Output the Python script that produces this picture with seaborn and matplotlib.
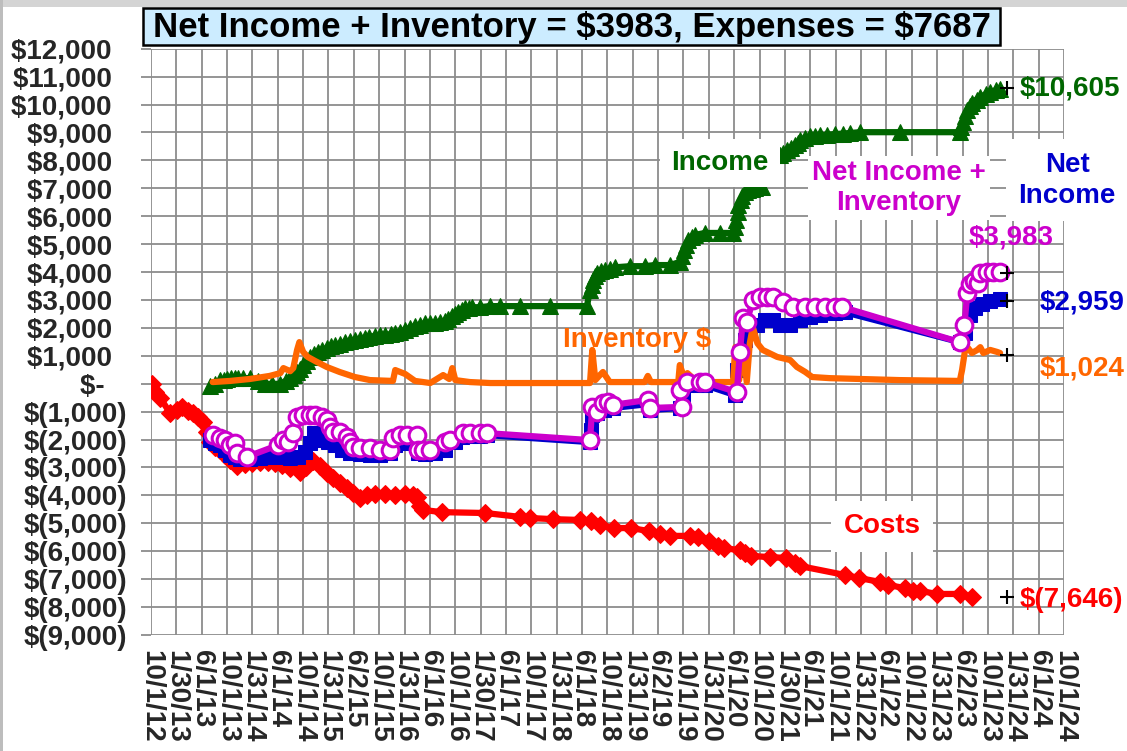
import numpy as np
import pandas as pd
import matplotlib
matplotlib.use("Agg")
import matplotlib.pyplot as plt
from matplotlib.patches import Rectangle
import seaborn as sns

# ---------------- data (x in decimal years, y in dollars) ----------------
costs_t = [2012.76, 2012.80, 2012.87, 2013.00, 2013.09, 2013.16, 2013.24, 2013.30, 2013.37, 2013.43,
           2013.49, 2013.53, 2013.59, 2013.66, 2013.72, 2013.79, 2013.88, 2013.99, 2014.08, 2014.18,
           2014.29, 2014.38, 2014.47, 2014.58, 2014.71, 2014.79, 2014.88, 2014.97, 2015.06, 2015.14,
           2015.23, 2015.33, 2015.41, 2015.50, 2015.59, 2015.69, 2015.83, 2015.96, 2016.09, 2016.19,
           2016.25, 2016.29, 2016.33, 2016.57, 2017.14, 2017.60, 2017.73, 2018.03, 2018.39, 2018.53,
           2018.65, 2018.84, 2019.06, 2019.30, 2019.44, 2019.57, 2019.83, 2019.94, 2020.08, 2020.20,
           2020.28, 2020.49, 2020.56, 2020.64, 2020.89, 2021.10, 2021.21, 2021.28, 2021.87, 2022.06,
           2022.33, 2022.44, 2022.66, 2022.77, 2022.86, 2023.08, 2023.38, 2023.54]
costs_v = [0, -300, -500, -1050, -940, -830, -980, -1050, -1190, -1370,
           -1730, -2090, -2270, -2380, -2550, -2730, -2950, -2880, -2840, -2800,
           -2800, -2840, -2910, -3020, -3160, -2980, -2770, -2950, -3200, -3380,
           -3560, -3740, -3920, -4090, -3990, -3950, -3950, -3990, -3950, -3990,
           -4060, -4380, -4520, -4600, -4630, -4770, -4810, -4850, -4880, -4920,
           -5060, -5170, -5170, -5280, -5380, -5450, -5450, -5490, -5640, -5810,
           -5890, -5960, -6070, -6170, -6210, -6240, -6420, -6530, -6850, -6960,
           -7100, -7210, -7320, -7420, -7420, -7530, -7530, -7646]

income_t = [2013.53, 2013.59, 2013.66, 2013.71, 2013.75, 2013.80, 2013.85, 2013.90, 2013.96, 2014.05,
            2014.16, 2014.25, 2014.34, 2014.45, 2014.52, 2014.58, 2014.63, 2014.67, 2014.71, 2014.75,
            2014.80, 2014.84, 2014.89, 2014.94, 2015.00, 2015.06, 2015.11, 2015.17, 2015.23, 2015.30,
            2015.36, 2015.43, 2015.50, 2015.56, 2015.62, 2015.69, 2015.76, 2015.83, 2015.90, 2015.96,
            2016.02, 2016.09, 2016.15, 2016.22, 2016.28, 2016.35, 2016.42, 2016.48, 2016.55, 2016.61,
            2016.66, 2016.71, 2016.75, 2016.79, 2016.84, 2016.88, 2016.93, 2016.97, 2017.07, 2017.20,
            2017.34, 2017.60, 2017.99, 2018.48, 2018.52, 2018.54, 2018.56, 2018.58, 2018.61, 2018.66,
            2018.72, 2018.78, 2018.85, 2019.05, 2019.24, 2019.37, 2019.57, 2019.70, 2019.73, 2019.76,
            2019.78, 2019.81, 2019.86, 2019.90, 2020.03, 2020.23, 2020.40, 2020.42, 2020.44, 2020.46,
            2020.47, 2020.50, 2020.52, 2020.56, 2020.60, 2020.65, 2020.69, 2020.78, 2020.98, 2021.02,
            2021.06, 2021.11, 2021.16, 2021.21, 2021.25, 2021.28, 2021.34, 2021.41, 2021.48, 2021.54,
            2021.64, 2021.74, 2021.84, 2021.94, 2022.07, 2022.59, 2023.38, 2023.40, 2023.42, 2023.45,
            2023.48, 2023.51, 2023.54, 2023.60, 2023.65, 2023.72, 2023.78, 2023.85, 2023.91]
income_v = [-80, 0, 130, 150, 170, 190, 200, 200, 200, 200,
            100, 0, -10, 0, 100, 200, 320, 420, 540, 670,
            820, 960, 1050, 1130, 1210, 1280, 1340, 1390, 1440, 1490,
            1530, 1570, 1610, 1640, 1680, 1710, 1730, 1740, 1780, 1820,
            1870, 1920, 2000, 2070, 2120, 2170, 2170, 2170, 2200, 2240,
            2320, 2410, 2480, 2560, 2640, 2710, 2730, 2740, 2740, 2780,
            2780, 2780, 2780, 2780, 3360, 3550, 3710, 3850, 3970, 4020,
            4060, 4120, 4170, 4210, 4210, 4250, 4250, 4360, 4580, 4790,
            4980, 5150, 5260, 5330, 5400, 5400, 5400, 5620, 5860, 6140,
            6400, 6580, 6720, 6850, 6940, 6980, 7000, 7050, 8190, 8190,
            8280, 8370, 8460, 8550, 8640, 8720, 8800, 8870, 8890, 8900,
            8920, 8940, 8960, 8980, 9010, 9010, 9010, 9180, 9370, 9580,
            9800, 9950, 10050, 10180, 10270, 10370, 10450, 10510, 10560]

inventory_t = [2013.56, 2013.79, 2014.05, 2014.31, 2014.45, 2014.49, 2014.58, 2014.62, 2014.67, 2014.70,
               2014.75, 2014.81, 2014.91, 2015.06, 2015.23, 2015.43, 2015.63, 2015.93, 2015.96, 2016.09,
               2016.22, 2016.42, 2016.59, 2016.67, 2016.71, 2016.75, 2016.94, 2017.21, 2017.99, 2018.52,
               2018.55, 2018.59, 2018.65, 2018.69, 2018.78, 2019.24, 2019.28, 2019.32, 2019.68, 2019.70,
               2019.76, 2019.80, 2019.93, 2020.40, 2020.43, 2020.48, 2020.53, 2020.58, 2020.62, 2020.66,
               2020.72, 2020.79, 2020.98, 2021.15, 2021.24, 2021.35, 2021.44, 2021.67, 2022.07, 2022.59,
               2023.38, 2023.41, 2023.45, 2023.48, 2023.54, 2023.61, 2023.65, 2023.69, 2023.78, 2023.87,
               2023.91]
inventory_v = [60, 100, 170, 280, 380, 560, 450, 560, 1210, 1490,
               1140, 960, 810, 600, 420, 240, 130, 100, 490, 350,
               100, 25, 310, 170, 560, 130, 60, 25, 25, 25,
               1210, 130, 310, 420, 60, 60, 280, 60, 60, 670,
               200, 380, 60, 60, 1310, 130, 1310, 60, 1450, 2030,
               1450, 1210, 960, 850, 600, 420, 240, 200, 170, 130,
               100, 490, 1210, 1310, 1100, 1210, 1310, 1100, 1210, 1140,
               1100]

net_t = [2013.53, 2013.59, 2013.66, 2013.72, 2013.79, 2013.85, 2013.92, 2014.05, 2014.18, 2014.31,
         2014.45, 2014.58, 2014.68, 2014.77, 2014.84, 2014.89, 2014.94, 2015.00, 2015.08, 2015.17,
         2015.26, 2015.37, 2015.50, 2015.63, 2015.76, 2015.89, 2015.96, 2016.09, 2016.22, 2016.26,
         2016.35, 2016.48, 2016.61, 2016.75, 2016.84, 2016.94, 2017.07, 2017.17, 2018.52, 2018.53,
         2018.55, 2018.61, 2018.71, 2018.82, 2019.28, 2019.31, 2019.70, 2019.74, 2019.80, 2019.97,
         2020.03, 2020.43, 2020.45, 2020.49, 2020.56, 2020.62, 2020.71, 2020.82, 2020.93, 2021.02,
         2021.15, 2021.28, 2021.41, 2021.54, 2021.74, 2021.87, 2023.38, 2023.45, 2023.52, 2023.58,
         2023.67, 2023.78, 2023.91]
net_v = [-2020, -2130, -2200, -2370, -2550, -2630, -2700, -2700, -2660, -2630,
         -2630, -2660, -2630, -2450, -2130, -1770, -1880, -2020, -2090, -2200,
         -2370, -2480, -2520, -2550, -2550, -2480, -2200, -2130, -2130, -2480,
         -2520, -2480, -2370, -2090, -1910, -1880, -1880, -1840, -2090, -1660,
         -1120, -1050, -940, -870, -730, -940, -870, -480, -50, -50,
         -50, -410, 490, 1030, 1560, 1850, 2100, 2280, 2280, 2100,
         2100, 2280, 2380, 2460, 2530, 2560, 1490, 1810, 2460, 2710,
         2850, 2960, 3030]

netinv_t = [2013.56, 2013.66, 2013.72, 2013.79, 2013.85, 2013.88, 2014.01, 2014.42, 2014.49, 2014.55,
            2014.62, 2014.67, 2014.75, 2014.84, 2014.91, 2015.00, 2015.06, 2015.10, 2015.14, 2015.23,
            2015.33, 2015.37, 2015.41, 2015.50, 2015.63, 2015.76, 2015.89, 2015.93, 2016.02, 2016.11,
            2016.25, 2016.26, 2016.33, 2016.42, 2016.61, 2016.68, 2016.85, 2016.94, 2017.07, 2017.17,
            2018.52, 2018.55, 2018.61, 2018.69, 2018.76, 2018.82, 2019.28, 2019.31, 2019.73, 2019.70,
            2019.80, 2019.97, 2020.03, 2020.45, 2020.49, 2020.53, 2020.58, 2020.66, 2020.75, 2020.85,
            2020.93, 2021.06, 2021.19, 2021.35, 2021.48, 2021.61, 2021.74, 2021.83, 2023.38, 2023.44,
            2023.48, 2023.52, 2023.57, 2023.62, 2023.65, 2023.74, 2023.82, 2023.91]
netinv_v = [-1840, -1950, -2020, -2200, -2130, -2480, -2620, -2200, -2020, -2090,
            -1770, -1190, -1120, -1120, -1120, -1190, -1300, -1550, -1730, -1730,
            -1910, -2090, -2270, -2300, -2300, -2370, -2370, -1950, -1840, -1840,
            -1840, -2370, -2370, -2370, -2090, -2020, -1770, -1770, -1770, -1770,
            -2020, -830, -1010, -690, -660, -760, -580, -870, -830, -230,
            60, 60, 60, -300, 1120, 2340, 2200, 2990, 3100, 3100,
            3100, 2930, 2750, 2750, 2750, 2750, 2750, 2750, 1490, 2100,
            3240, 3570, 3680, 3610, 3970, 4000, 4000, 4000]

end_t = 2024.0
end_values = [10605, 3983, 2959, 1024, -7646]

xtick_labels = ["10/1/12", "1/30/13", "6/1/13", "10/1/13", "1/31/14", "6/1/14", "10/1/14", "1/31/15",
                "6/2/15", "10/1/15", "1/31/16", "6/1/16", "10/1/16", "1/30/17", "6/1/17", "10/1/17",
                "1/31/18", "6/1/18", "10/1/18", "1/31/19", "6/2/19", "10/1/19", "1/31/20", "6/1/20",
                "10/1/20", "1/30/21", "6/1/21", "10/1/21", "1/31/22", "6/1/22", "10/1/22", "1/31/23",
                "6/2/23", "10/1/23", "1/31/24", "6/1/24", "10/1/24"]
ytick_values = list(range(-9000, 12001, 1000))

title_text = "Net Income + Inventory = $3983, Expenses = $7687"

# ---------------- helpers ----------------
ORIGIN = pd.Timestamp("2012-10-01")


def to_dt(yrs):
    return ORIGIN + pd.to_timedelta((np.asarray(yrs, dtype=float) - 2012.75) * 365.25, unit="D")


def esc(s):
    return s.replace("$", r"\$")


def acct(v):
    if v == 0:
        return esc("$-   ")
    if v < 0:
        return esc("$({:,})".format(-v))
    return esc("${:,}  ".format(v))


GREEN = "#006600"
RED = "#FF0000"
ORANGE = "#FF6600"
BLUE = "#0000CC"
MAGENTA = "#CC00CC"
GRID = "#8C8C8C"

sns.set_theme(style="white")
plt.rcParams["font.family"] = ["Liberation Sans", "DejaVu Sans"]
plt.rcParams["font.weight"] = "bold"

fig = plt.figure(figsize=(11.27, 7.51), dpi=100)
ax = fig.add_axes([151 / 1127, 1 - 635 / 751, (1064 - 151) / 1127, (635 - 48.7) / 751])

# series
sns.lineplot(x=to_dt(income_t), y=income_v, ax=ax, color=GREEN, lw=4.5, marker="^",
             markersize=11, markeredgecolor=GREEN, sort=False, estimator=None, zorder=3)
sns.lineplot(x=to_dt(costs_t), y=costs_v, ax=ax, color=RED, lw=4.5, marker="D",
             markersize=9.5, markeredgecolor=RED, sort=False, estimator=None, zorder=4)
sns.lineplot(x=to_dt(net_t), y=net_v, ax=ax, color=BLUE, lw=4.5, marker="s",
             markersize=10, markeredgecolor=BLUE, sort=False, estimator=None, zorder=5)
sns.lineplot(x=to_dt(inventory_t), y=inventory_v, ax=ax, color=ORANGE, lw=4.5,
             sort=False, estimator=None, zorder=6)
sns.lineplot(x=to_dt(netinv_t), y=netinv_v, ax=ax, color=MAGENTA, lw=4.5, marker="o",
             markersize=12, markerfacecolor="white", markeredgecolor=MAGENTA, markeredgewidth=2.2,
             sort=False, estimator=None, zorder=7)
sns.scatterplot(x=to_dt([end_t] * len(end_values)), y=end_values, ax=ax, marker="+", s=110,
                color="black", linewidth=1.5, zorder=9, clip_on=False)

# axes
xt = pd.to_datetime(xtick_labels, format="%m/%d/%y")
ax.set_xlim(xt[0], xt[-1])
ax.set_ylim(-9000, 12000)
ax.set_xticks(xt)
ax.set_xticklabels(xtick_labels, rotation=270, fontsize=20, fontweight="bold")
ax.set_yticks(ytick_values)
ax.set_yticklabels([acct(v) for v in ytick_values], fontsize=20, fontweight="bold")
ax.tick_params(axis="x", length=0, pad=11)
ax.tick_params(axis="y", length=7, width=1.3, color=GRID, pad=10, direction="out", left=True)
ax.grid(True, color=GRID, lw=1.3)
ax.set_axisbelow(True)
for s in ax.spines.values():
    s.set_visible(False)
ax.set_xlabel("")
ax.set_ylabel("")
if ax.get_legend():
    ax.get_legend().remove()


def yd(v):
    return to_dt([v])[0]


lab = dict(fontsize=20, fontweight="bold", zorder=12)
ax.text(yd(2020.23), 7900, "Income", color=GREEN, ha="center", va="center",
        bbox=dict(facecolor="white", edgecolor="none", pad=8), **lab)
ax.text(yd(2022.58), 7000, "Net Income +\nInventory", color=MAGENTA, ha="center", va="center",
        linespacing=1.18, bbox=dict(facecolor="white", edgecolor="none", pad=3), **lab)
ax.text(yd(2024.79), 7290, "Net\nIncome", color=BLUE, ha="center", va="center", linespacing=1.25,
        bbox=dict(facecolor="white", edgecolor="none", pad=9), clip_on=False, **lab)
ax.text(yd(2024.05), 5255, esc("$3,983"), color=MAGENTA, ha="center", va="center", clip_on=False, **lab)
ax.text(yd(2024.17), 10590, esc("$10,605"), color=GREEN, ha="left", va="center", clip_on=False, **lab)
ax.text(yd(2024.43), 2920, esc("$2,959"), color=BLUE, ha="left", va="center", clip_on=False, **lab)
ax.text(yd(2024.43), 560, esc("$1,024"), color=ORANGE, ha="left", va="center", clip_on=False, **lab)
ax.text(yd(2024.17), -7750, esc("$(7,646)"), color=RED, ha="left", va="center", clip_on=False, **lab)
ax.text(yd(2019.14), 1560, esc("Inventory $"), color=ORANGE, ha="center", va="center", **lab)
ax.text(yd(2022.36), -5100, "Costs", color=RED, ha="center", va="center",
        bbox=dict(facecolor="white", edgecolor="none", pad=9), **lab)

# title box
fig.patches.append(Rectangle((143 / 1127, 1 - 45 / 751), (1000 - 143) / 1127, 37 / 751,
                             transform=fig.transFigure, facecolor="#CCECFF", edgecolor="black",
                             lw=1.8, zorder=19))
fig.text(571.5 / 1127, 1 - 27 / 751, esc(title_text), ha="center", va="center", fontsize=25,
         fontweight="bold", color="black", zorder=20)

# window-like frame pieces
fig.patches.append(Rectangle((0, 1 - 7 / 751), 1, 7 / 751, transform=fig.transFigure,
                             facecolor="#D4D4D4", edgecolor="none", zorder=0))
fig.patches.append(Rectangle((0, 0), 3 / 1127, 1, transform=fig.transFigure,
                             facecolor="#BDBDBD", edgecolor="none", zorder=0))

fig.savefig("out.png", dpi=100)
